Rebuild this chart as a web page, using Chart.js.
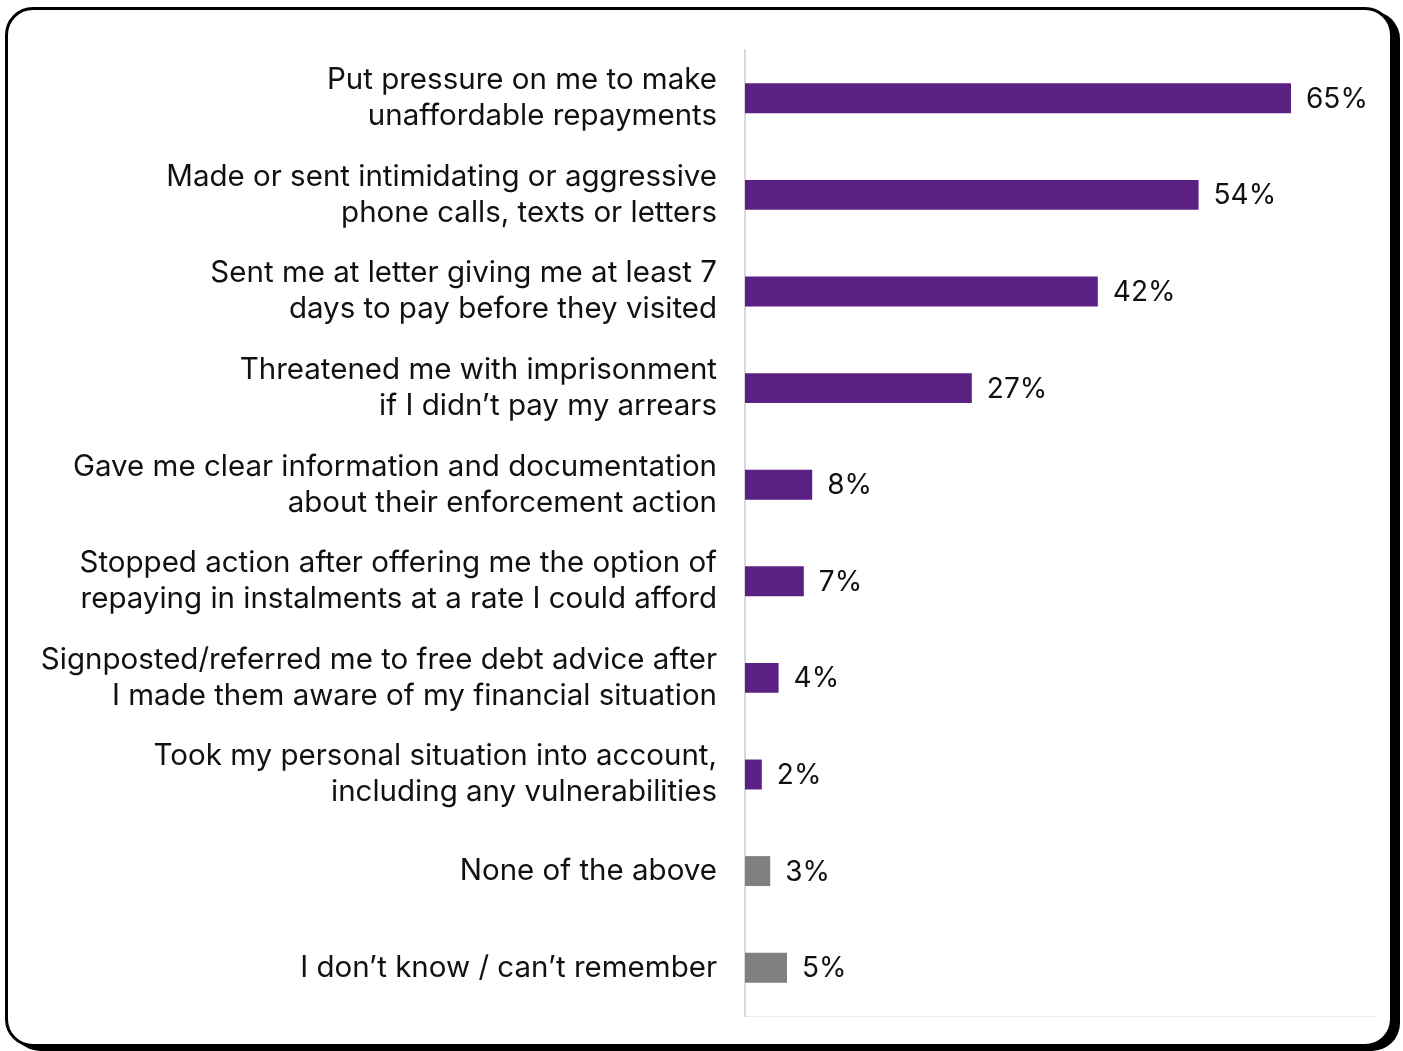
<!DOCTYPE html>
<html>
<head>
<meta charset="utf-8">
<script src="https://cdn.jsdelivr.net/npm/chart.js@4/dist/chart.umd.min.js"></script>
<style>
    html, body { margin: 0; padding: 0; background: #fff; }
    body { width: 1403px; height: 1051px; position: relative; overflow: hidden; }
    #frame {
        position: absolute; left: 5px; top: 7px;
        width: 1382px; height: 1034px;
        border: 3px solid #000; border-radius: 28px;
        box-shadow: 7px 4px 0 #000;
        background: #fff;
    }
    #wrap { position: absolute; left: 0; top: 0; width: 1403px; height: 1051px; }
</style>
</head>
<body>
<div id="frame"></div>
<div id="wrap"><canvas id="bars" width="1403" height="1051"></canvas></div>
<script>
"use strict";

// Responses (percent of respondents)
var categories = [
    ["Put pressure on me to make", "unaffordable repayments"],
    ["Made or sent intimidating or aggressive", "phone calls, texts or letters"],
    ["Sent me at letter giving me at least 7", "days to pay before they visited"],
    ["Threatened me with imprisonment", "if I didn\u2019t pay my arrears"],
    ["Gave me clear information and documentation", "about their enforcement action"],
    ["Stopped action after offering me the option of", "repaying in instalments at a rate I could afford"],
    ["Signposted/referred me to free debt advice after", "I made them aware of my financial situation"],
    ["Took my personal situation into account,", "including any vulnerabilities"],
    "None of the above",
    "I don\u2019t know / can\u2019t remember"
];
var values = [65, 54, 42, 27, 8, 7, 4, 2, 3, 5];
var neutral = [false, false, false, false, false, false, false, false, true, true];

var settings = {
    purple: "#5c2084",
    grey: "#808080",
    font: "Inter, 'Noto Sans', sans-serif",
    labelSize: 29.5,
    valueSize: 28
};

// percent labels just past the end of each bar
var valueLabels = {
    id: "valueLabels",
    afterDatasetsDraw: function (chart) {
        var ctx = chart.ctx,
            meta = chart.getDatasetMeta(0);
        ctx.save();
        ctx.font = settings.valueSize + "px " + settings.font;
        ctx.fillStyle = "#111";
        ctx.textAlign = "left";
        ctx.textBaseline = "middle";
        meta.data.forEach(function (bar, i) {
            ctx.fillText(values[i] + "%", bar.x + 15, bar.y + 1);
        });
        ctx.restore();
    }
};

new Chart(document.getElementById("bars").getContext("2d"), {
    type: "bar",
    data: {
        labels: categories,
        datasets: [{
            data: values,
            backgroundColor: neutral.map(function (n) { return n ? settings.grey : settings.purple; }),
            barPercentage: 0.62,
            categoryPercentage: 0.5
        }]
    },
    options: {
        indexAxis: "y",
        responsive: false,
        animation: false,
        layout: { padding: { top: 50, right: 28, bottom: 34, left: 0 } },
        plugins: {
            legend: { display: false },
            tooltip: { enabled: false }
        },
        scales: {
            x: {
                min: 0,
                max: 75,
                grid: { display: false, drawTicks: false },
                ticks: { display: false },
                border: { display: true, color: "#ececec", width: 1 },
                afterFit: function (scale) { scale.height = 1; }
            },
            y: {
                grid: { display: false, drawTicks: false },
                border: { display: true, color: "#d9d9d9", width: 2 },
                ticks: {
                    color: "#111",
                    padding: 28,
                    font: { family: settings.font, size: settings.labelSize, lineHeight: 1.22 }
                },
                afterFit: function (scale) {
                    // labels sit inside their bands, no overflow room needed
                    scale.width = 745;
                    scale.paddingTop = 0;
                    scale.paddingBottom = 0;
                }
            }
        }
    },
    plugins: [valueLabels]
});
</script>
</body>
</html>
